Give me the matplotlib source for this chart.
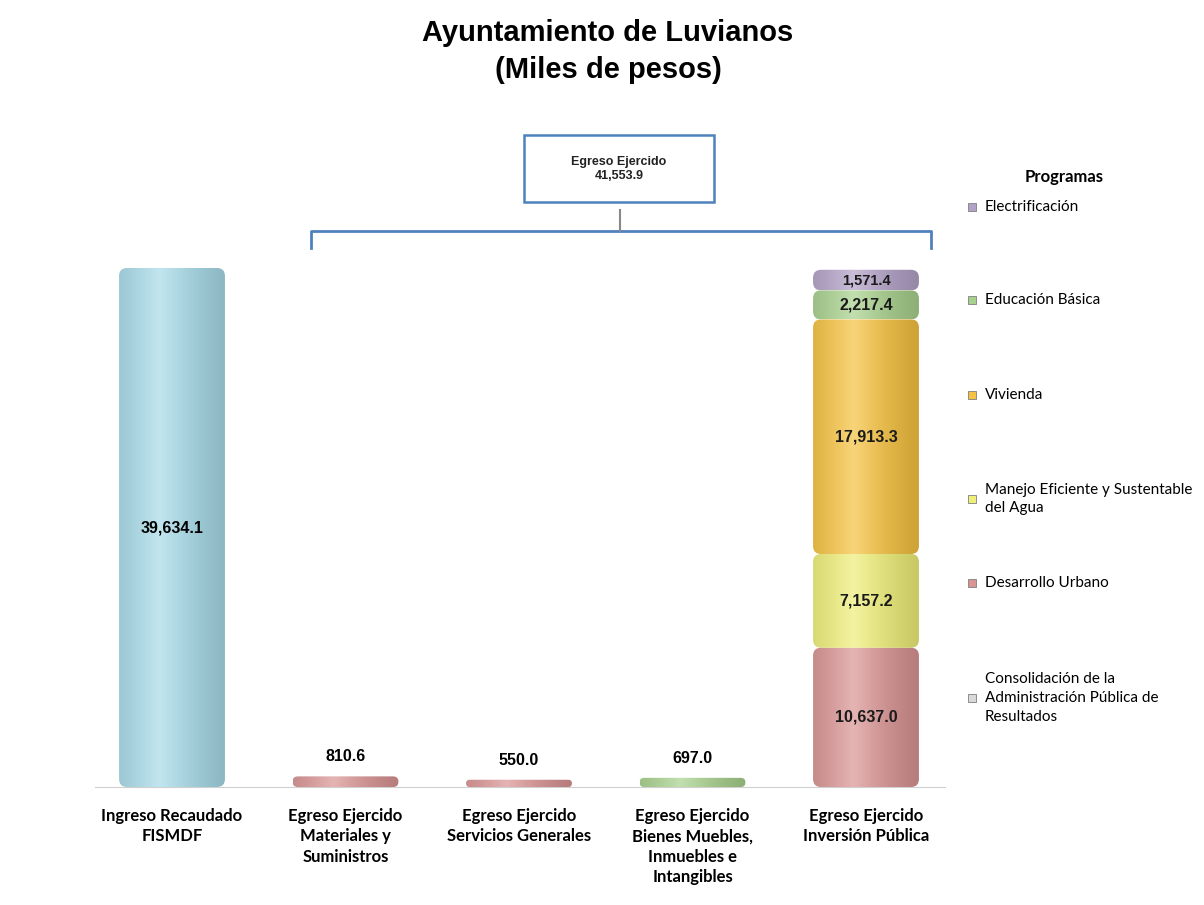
import numpy as np
import matplotlib.pyplot as plt
from matplotlib.patches import FancyBboxPatch, Rectangle
from matplotlib.lines import Line2D

# data
categorias = ['Ingreso Recaudado\nFISMDF',
              'Egreso Ejercido\nMateriales y\nSuministros',
              'Egreso Ejercido\nServicios Generales',
              'Egreso Ejercido\nBienes Muebles,\nInmuebles e\nIntangibles',
              'Egreso Ejercido\nInversión Pública']
valores_simples = [39634.1, 810.6, 550.0, 697.0]
colores_simples = ['#a8dbe8', '#d99594', '#d99594', '#a9d18e']

# stacked programs in the last bar (bottom -> top)
programas = ['Consolidación de la\nAdministración Pública de\nResultados',
             'Desarrollo Urbano',
             'Manejo Eficiente y Sustentable\ndel Agua',
             'Vivienda',
             'Educación Básica',
             'Electrificación']
valores_prog = [0.0, 10637.0, 7157.2, 17913.3, 2217.4, 1571.4]
colores_prog = ['#d9d9d9', '#d99594', '#eeee7a', '#f5c242', '#a9d18e', '#b3a2c7']

egreso_total = 41553.9

W, H = 1204, 905
fig = plt.figure(figsize=(W / 100, H / 100), dpi=100)
num_font = 'Liberation Sans'

# axes placed in pixels: baseline at y=787, left 95, right 945
px_left, px_right, px_base, px_top = 95, 945, 787, 130
ax = fig.add_axes([px_left / W, (H - px_base) / H,
                   (px_right - px_left) / W, (px_base - px_top) / H])
units_per_px = 39634.1 / 519.0
ymax = units_per_px * (px_base - px_top)
x_per_px = 1 / 173.5
xmin = -(172 - px_left) * x_per_px
xmax = xmin + (px_right - px_left) * x_per_px

bw = 0.61
x = np.arange(len(categorias))


def shade_bar(p, color):
    x0, y0 = p.get_x(), p.get_y()
    w, h = p.get_width(), p.get_height()
    if h <= 0:
        p.remove()
        return
    r_px = min(8, h / units_per_px / 2)
    fb = FancyBboxPatch((x0, y0), w, h,
                        boxstyle='round,pad=0,rounding_size=%f' % (r_px * x_per_px),
                        mutation_aspect=units_per_px / x_per_px,
                        fc=color, ec='white', lw=0.8, zorder=2)
    ax.add_patch(fb)
    p.remove()
    # cylinder shading
    t = np.linspace(0, 1, 60)
    s = np.clip(1 - np.abs(t - 0.38) / 0.62, 0, 1)
    c = np.array(plt.matplotlib.colors.to_rgb(color))
    rgb = c[None, :] * (0.84 + 0.16 * s[:, None])
    rgb = rgb + (1 - rgb) * (0.3 * s[:, None] ** 2)
    im = ax.imshow(np.clip(rgb[None, :, :], 0, 1), extent=[x0, x0 + w, y0, y0 + h],
                   aspect='auto', zorder=3, interpolation='bilinear')
    im.set_clip_path(fb)


# single bars
bars = ax.bar(x[:4], valores_simples, width=bw, color=colores_simples)
for p, c in zip(bars.patches, colores_simples):
    shade_bar(p, c)
ax.text(x[0], valores_simples[0] / 2, f'{valores_simples[0]:,.1f}', ha='center', va='center',
        fontsize=11.5, fontweight='bold', family=num_font, zorder=5)
for xi, v in zip(x[1:4], valores_simples[1:]):
    ax.text(xi, v + 12 * units_per_px, f'{v:,.1f}', ha='center', va='bottom',
            fontsize=11.5, fontweight='bold', family=num_font, zorder=5)

# stacked bar
bottom = 0
for name, v, c in zip(programas, valores_prog, colores_prog):
    b = ax.bar(x[4], v, width=bw, bottom=bottom, color=c)
    shade_bar(b.patches[0], c)
    if v > 0:
        ax.text(x[4], bottom + v / 2, f'{v:,.1f}', ha='center', va='center',
                fontsize=11.5 if v > 2000 else 10.5, fontweight='bold',
                color='#1a1a1a', family=num_font, zorder=5)
    bottom += v

ax.set_xlim(xmin, xmax)
ax.set_ylim(0, ymax)
ax.set_yticks([])
ax.set_xticks(x)
ax.set_xticklabels(categorias, fontsize=12, fontweight='bold', family='Lato',
                   linespacing=1.35, va='top')
ax.tick_params(axis='x', length=0, pad=15)
for s in ['top', 'left', 'right']:
    ax.spines[s].set_visible(False)
ax.spines['bottom'].set_color('#d0d0d0')
ax.patch.set_alpha(0)

# title
fig.text(608 / W, 1 - 33 / H, 'Ayuntamiento de Luvianos', ha='center', va='center',
         fontsize=21, fontweight='bold', family='Liberation Sans')
fig.text(608 / W, 1 - 70 / H, '(Miles de pesos)', ha='center', va='center',
         fontsize=21, fontweight='bold', family='Liberation Sans')

# bracket + box for total expenditure
blue = '#4f81bd'


def fx(px):
    return px / W


def fy(py):
    return 1 - py / H


fig.add_artist(Line2D([fx(311), fx(311), fx(931), fx(931)],
                      [fy(248), fy(231), fy(231), fy(248)], color=blue, lw=2))
fig.add_artist(Line2D([fx(620), fx(620)], [fy(231), fy(210)], color='#888888', lw=1.5))
fig.add_artist(Rectangle((fx(524), fy(202)), fx(714) - fx(524), fy(135) - fy(202),
                         transform=fig.transFigure, fc='white', ec=blue, lw=1.8))
fig.text(fx(619), fy(169), f'Egreso Ejercido\n{egreso_total:,.1f}', ha='center', va='center',
         fontsize=9, fontweight='bold', family=num_font, linespacing=1.3, color='#222222')

# legend
fig.text(fx(1064), fy(177), 'Programas', ha='center', va='center',
         fontsize=12, fontweight='bold', family='Lato')
leg_y = [698, 583, 499, 395, 300, 207]
for name, c, yy in zip(programas, colores_prog, leg_y):
    fig.add_artist(Rectangle((fx(968), fy(yy + 4)), fx(8), 8 / H,
                             transform=fig.transFigure, fc=c, ec='#7f7f7f', lw=0.6))
    fig.text(fx(985), fy(yy), name, ha='left', va='center', fontsize=11,
             family='Lato', linespacing=1.45)

fig.savefig('out.png', dpi=100, facecolor='white')
